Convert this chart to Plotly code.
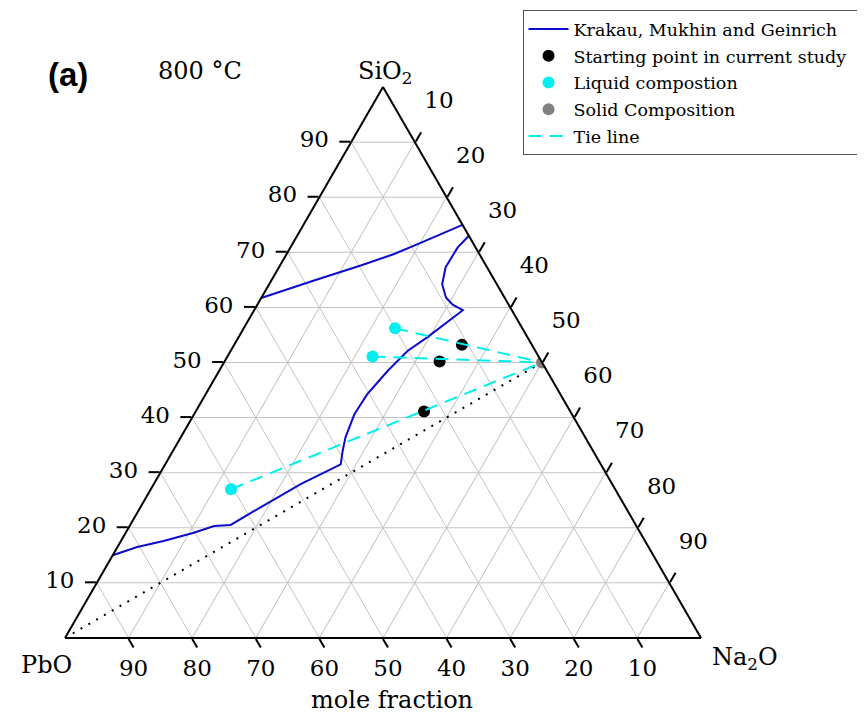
import plotly.graph_objects as go

# ---- data (mole %, SiO2 / PbO / Na2O) ----
kmg1_sio2 = [61.7, 64.9, 67.6, 69.7, 71.5, 75.0]
kmg1_pbo = [38.3, 28.4, 19.7, 13.4, 8.8, 0.0]
kmg1_na2o = [0.0, 6.7, 12.7, 16.9, 19.7, 25.0]

kmg2_sio2 = [73.0, 70.9, 67.3, 64.2, 61.8, 60.5, 59.5, 54.6, 52.1, 48.5, 44.2, 40.6, 36.4, 33.9, 31.5,
             27.9, 23.0, 20.5, 20.3, 19.1, 17.6, 16.5, 15.0]
kmg2_pbo = [0.0, 2.8, 6.5, 8.6, 9.2, 8.8, 7.7, 15.7, 20.1, 25.0, 30.4, 34.2, 37.7, 39.4, 40.9,
            49.0, 58.8, 63.7, 66.4, 70.2, 75.7, 80.4, 85.0]
kmg2_na2o = [27.0, 26.3, 26.2, 27.2, 29.0, 30.7, 32.8, 29.7, 27.8, 26.5, 25.4, 25.2, 25.9, 26.7, 27.6,
             23.1, 18.2, 15.8, 13.3, 10.7, 6.7, 3.1, 0.0]

start_sio2 = [53.2, 50.2, 41.1]
start_pbo = [11.0, 16.0, 23.0]
start_na2o = [35.8, 33.8, 35.9]

liquid_sio2 = [56.2, 51.1, 27.0]
liquid_pbo = [20.0, 26.1, 60.4]
liquid_na2o = [23.8, 22.8, 12.6]

solid_sio2 = [50.0]
solid_pbo = [0.0]
solid_na2o = [50.0]
solid_label = ["Na<sub>2</sub>SiO<sub>3</sub>"]

# PbO - Na2SiO3 join
join_sio2 = [0.0, 50.0]
join_pbo = [100.0, 0.0]
join_na2o = [0.0, 50.0]

ticks = [10, 20, 30, 40, 50, 60, 70, 80, 90]

SERIF = "DejaVu Serif"
BLUE = "#0c0ccc"
CYAN = "#00eeee"

# tie lines: each liquid point to the solid composition
tie_a, tie_b, tie_c = [], [], []
for a, b, c in zip(liquid_sio2, liquid_pbo, liquid_na2o):
    tie_a += [a, solid_sio2[0], None]
    tie_b += [b, solid_pbo[0], None]
    tie_c += [c, solid_na2o[0], None]

fig = go.Figure()

fig.add_trace(go.Scatterternary(
    a=kmg1_sio2 + [None] + kmg2_sio2,
    b=kmg1_pbo + [None] + kmg2_pbo,
    c=kmg1_na2o + [None] + kmg2_na2o,
    mode="lines", line=dict(color=BLUE, width=2),
    name="Krakau, Mukhin and Geinrich", legendrank=1, legendgroup="g1", connectgaps=False))

fig.add_trace(go.Scatterternary(
    a=join_sio2, b=join_pbo, c=join_na2o, mode="lines",
    line=dict(color="black", width=2, dash="2px,7px"), showlegend=False))

fig.add_trace(go.Scatterternary(
    a=start_sio2, b=start_pbo, c=start_na2o, mode="markers",
    marker=dict(color="black", size=12),
    name="Starting point in current study\u00a0\u00a0\u00a0", legendrank=2, legendgroup="g2"))

fig.add_trace(go.Scatterternary(
    a=tie_a, b=tie_b, c=tie_c, mode="lines",
    line=dict(color=CYAN, width=2, dash="13px,8px"),
    name="Tie line", legendrank=5, legendgroup="g5", connectgaps=False))

fig.add_trace(go.Scatterternary(
    a=liquid_sio2, b=liquid_pbo, c=liquid_na2o, mode="markers",
    marker=dict(color=CYAN, size=12),
    name="Liquid compostion", legendrank=3, legendgroup="g3"))

fig.add_trace(go.Scatterternary(
    a=solid_sio2, b=solid_pbo, c=solid_na2o, mode="markers+text",
    marker=dict(color="#808080", size=12),
    text=solid_label, textposition="middle right",
    textfont=dict(family=SERIF, size=14, color="black"),
    name="Solid Composition", legendrank=4, legendgroup="g4"))


def axis(ticktext, ticklen=11):
    return dict(
        tickvals=ticks, ticktext=ticktext, ticks="outside", ticklen=ticklen,
        tickwidth=2, tickcolor="black", linecolor="black", linewidth=2,
        showgrid=True, gridcolor="#c4c4c4", gridwidth=1, min=0,
        tickfont=dict(family=SERIF, size=23, color="black"), title=dict(text=""))


left_labels = [f"{t}\u00a0" for t in ticks]
bottom_labels = [str(t) for t in ticks]
# right-hand labels sit higher, along the grid-line direction
right_labels = [f"{t}<br>\u00a0<br>\u00a0" for t in ticks]


def label(text, x, y, size=24, family=SERIF):
    return dict(text=text, x=x / 865, y=1 - y / 713, xref="paper", yref="paper",
                xanchor="center", yanchor="middle", showarrow=False,
                font=dict(family=family, size=size, color="black"))


fig.update_layout(
    width=865, height=713,
    margin=dict(l=0, r=0, t=0, b=0, autoexpand=False),
    paper_bgcolor="white",
    ternary=dict(
        sum=100,
        domain=dict(x=[57 / 865, 693 / 865], y=[83 / 713, 634 / 713]),
        bgcolor="white",
        aaxis=axis(left_labels), baxis=axis(bottom_labels, 10), caxis=axis(right_labels)),
    showlegend=True,
    legend=dict(x=0.996, y=0.997, xanchor="right", yanchor="top",
                bgcolor="white", bordercolor="#555555", borderwidth=1,
                font=dict(family=SERIF, size=17.5, color="black"),
                itemwidth=40, tracegroupgap=1),
    annotations=[
        label("<b>(a)</b>", 60, 67, 33, "Liberation Sans"),
        label("800 °C", 192, 63),
        label("SiO<sub>2</sub>", 377, 64),
        label("PbO", 38, 657),
        label("Na<sub>2</sub>O", 737, 650),
        label("mole fraction", 384, 692),
    ],
    shapes=[dict(type="line", xref="paper", yref="paper", x0=544 / 865, x1=1,
                 y0=1 - 711 / 713, y1=1 - 711 / 713, line=dict(color="#d0d0d0", width=1))],
)

fig.write_html("out.html")
